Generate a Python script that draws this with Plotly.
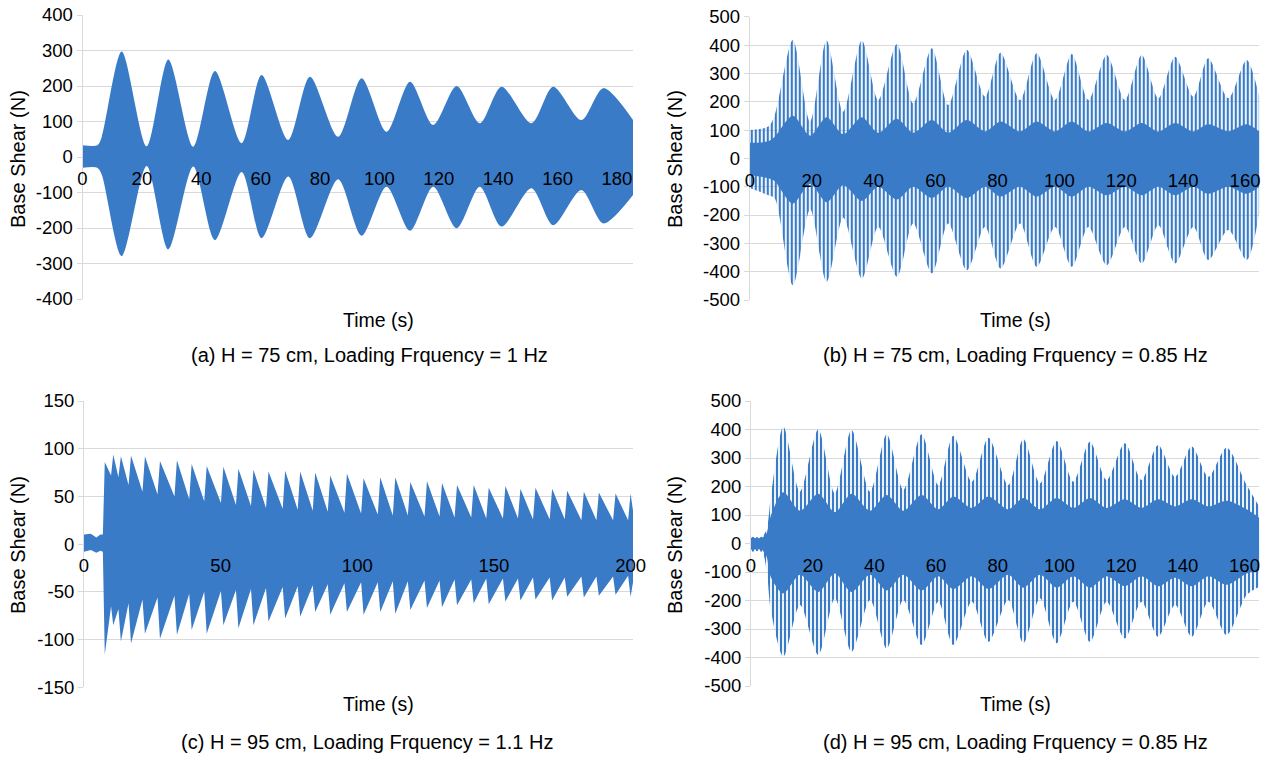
import plotly.graph_objects as go

BLUE = "#3a7bc8"
GRID = "#d9d9d9"
FONT = "Liberation Sans, Arial, sans-serif"

# ---------------- (a) H = 75 cm, 1 Hz : envelope of the base-shear record
t_a = [0, 5, 6.5, 13.2, 21.6, 28.9, 37.3, 44.6, 53.6, 60.3, 69.3, 76.6, 86.1, 94.0,
       102.4, 110.3, 118.1, 126.0, 133.8, 141.1, 151.2, 158.5, 168.0, 175.4, 185.4]
up_a = [33, 33, 57, 297, 30, 275, 29, 242, 39, 231, 48, 226, 57, 222,
        71, 212, 90, 200, 95, 198, 95, 198, 104, 194, 104]
lo_a = [-30, -30, -50, -279, -25, -260, -27, -234, -42, -229, -55, -229, -63, -222,
        -84, -208, -84, -201, -84, -196, -88, -192, -93, -187, -107]

# ---------------- (b) H = 75 cm, 0.85 Hz : spike-tip envelope and dense core
t_b = [0, 6, 8, 13.9, 19.5, 24.8, 30.2, 36.2, 41.5, 47.5, 52.8, 58.8, 64.1, 70.1, 76.0,
       81.0, 87.3, 92.7, 98.6, 104.0, 109.4, 115.3, 121.2, 126.6, 132.0, 137.4, 143.3,
       148.1, 154.6, 160.5, 164.6]
up_b = [100, 112, 150, 418, 130, 416, 165, 416, 206, 404, 194, 389, 188, 383, 218,
        373, 206, 371, 206, 368, 206, 365, 206, 365, 212, 359, 218, 353, 212, 347, 218]
lo_b = [-105, -130, -140, -448, -180, -436, -210, -424, -242, -418, -230, -406, -230, -395, -242,
        -389, -230, -383, -242, -383, -242, -377, -242, -371, -236, -371, -242, -359, -253, -359, -194]
core_hi_b = [55, 60, 75, 150, 80, 145, 85, 145, 90, 140, 90, 135, 90, 135, 95,
             130, 95, 130, 95, 130, 95, 125, 95, 125, 95, 125, 95, 120, 95, 120, 95]
core_lo_b = [-60, -70, -80, -160, -90, -155, -95, -150, -100, -145, -100, -140, -100, -140, -100,
             -135, -100, -135, -100, -135, -100, -130, -100, -130, -100, -130, -100, -125, -100, -125, -100]

# ---------------- (c) H = 95 cm, 1.1 Hz : beat peaks and the troughs between them
c_pre_t = [0, 2.5, 4.5, 6.0, 6.9]
c_pre_up = [10, 11, 7, 10, 10]
c_pre_lo = [-8, -6, -9, -7, -8]
c_peak_t = [7.6, 10.7, 13.5, 17.2, 22.3, 27.8, 34.0, 39.4, 44.9, 51.0, 56.5, 62.0,
            67.5, 73.6, 79.1, 84.6, 90.1, 96.2, 102.3, 108.4, 113.9, 119.4, 125.5, 131.0,
            136.5, 142.6, 148.1, 154.2, 159.7, 165.2, 171.3, 176.8, 182.9, 188.4, 194.5, 200.0]
c_peak_up = [86, 94, 92, 93, 92, 87, 88, 84, 82, 81, 79, 78,
             76, 77, 76, 75, 72, 74, 69, 70, 70, 65, 66, 64,
             62, 62, 59, 61, 58, 59, 58, 56, 55, 54, 53, 53]
c_peak_lo = [-116, -85, -102, -104, -94, -99, -95, -90, -94, -85, -88, -85,
             -81, -78, -76, -71, -74, -71, -74, -71, -73, -69, -67, -66,
             -64, -62, -63, -60, -59, -58, -59, -55, -56, -54, -53, -55]
c_trough_t = [9.9, 12.6, 16.3, 21.4, 26.9, 33.1, 38.5, 44.0, 50.1, 55.6, 61.1, 66.6,
              72.7, 78.2, 83.7, 89.2, 95.3, 101.4, 107.5, 113.0, 118.5, 124.6, 130.1, 135.6,
              141.7, 147.2, 153.3, 158.8, 164.3, 170.4, 175.9, 182.0, 187.5, 193.6, 199.1, 200.9]
c_trough_up = [72, 70, 62, 55, 52, 50, 47, 45, 43, 41, 40, 38,
               37, 36, 35, 34, 33, 32, 31, 30, 30, 29, 29, 28,
               28, 27, 27, 27, 26, 26, 26, 25, 25, 25, 25, 35]
c_trough_lo = [-65, -68, -62, -58, -56, -54, -52, -50, -49, -48, -47, -46,
               -45, -44, -43, -42, -41, -40, -40, -39, -39, -38, -38, -37,
               -37, -36, -36, -36, -35, -35, -35, -34, -34, -34, -33, -40]

# ---------------- (d) H = 95 cm, 0.85 Hz : spike-tip envelope and dense core
t_d = [0, 3.5, 5.0, 6.5, 10.5, 15.9, 21.8, 27.2, 32.6, 38.6, 44.0, 49.4, 55.3, 60.7,
       65.6, 71.6, 77.0, 83.4, 88.3, 93.7, 99.1, 104.5, 109.9, 115.3, 121.2, 126.6,
       132.0, 137.5, 142.9, 148.3, 154.2, 160.7, 164.8]
up_d = [24, 24, 47, 170, 410, 182, 400, 176, 398, 182, 383, 188, 383, 205,
        378, 217, 371, 205, 367, 211, 360, 217, 357, 223, 352, 223,
        346, 234, 340, 234, 336, 205, 129]
lo_d = [-29, -29, -87, -239, -397, -216, -391, -192, -380, -198, -368, -198, -356, -204,
        -356, -204, -345, -198, -350, -192, -350, -204, -345, -204, -333, -204,
        -327, -216, -327, -204, -321, -181, -152]
core_hi_d = [20, 20, 35, 100, 180, 115, 175, 110, 175, 115, 170, 115, 170, 120,
             165, 125, 165, 120, 160, 120, 160, 125, 160, 125, 155, 125,
             155, 130, 155, 130, 150, 120, 90]
core_lo_d = [-22, -22, -45, -120, -175, -110, -170, -105, -170, -110, -165, -110, -165, -115,
             -160, -115, -160, -110, -155, -110, -155, -115, -155, -115, -150, -115,
             -150, -120, -150, -115, -145, -105, -95]

# axis ticks
ticks_a = list(range(0, 181, 20))
ticks_bd = list(range(0, 161, 20))
ticks_c = [0, 50, 100, 150, 200]

W, H = 1271, 759


def px_x(v):
    return v / W


def px_y(v):
    return 1 - v / H


def merged(*pairs):
    ts, vs = [], []
    for t, v in pairs:
        ts += t
        vs += v
    pts = sorted(zip(ts, vs))
    return [p[0] for p in pts], [p[1] for p in pts]


fig = go.Figure()


def axes_of(n):
    return ("x", "y") if n == 1 else (f"x{n}", f"y{n}")


def band(x_hi, hi, x_lo, lo, n, shape, smoothing=1.0, pattern=None, color=BLUE):
    xa, ya = axes_of(n)
    line = dict(width=0, shape=shape)
    if shape == "spline":
        line["smoothing"] = smoothing
    fig.add_trace(go.Scatter(x=x_hi, y=hi, xaxis=xa, yaxis=ya, mode="lines",
                             line=line, hoverinfo="skip", showlegend=False))
    kw = dict(fill="tonexty", fillcolor=color)
    if pattern is not None:
        kw["fillpattern"] = pattern
    fig.add_trace(go.Scatter(x=x_lo, y=lo, xaxis=xa, yaxis=ya, mode="lines",
                             line=line, hoverinfo="skip", showlegend=False, **kw))


spikes = dict(shape="|", size=4, solidity=0.55, fgcolor=BLUE, fgopacity=1,
              bgcolor="rgba(0,0,0,0)")

# (a)
band(t_a, up_a, t_a, lo_a, 1, "spline", 0.8)
# (b)
band(t_b, up_b, t_b, lo_b, 2, "spline", 0.8, pattern=spikes)
band(t_b, core_hi_b, t_b, core_lo_b, 2, "spline", 0.8)
# (c)
tu, vu = merged((c_pre_t, c_pre_up), (c_peak_t, c_peak_up), (c_trough_t, c_trough_up))
tl, vl = merged((c_pre_t, c_pre_lo), (c_peak_t, c_peak_lo), (c_trough_t, c_trough_lo))
band(tu, vu, tl, vl, 3, "linear")
# (d)
band(t_d, up_d, t_d, lo_d, 4, "spline", 0.8, pattern=spikes)
band(t_d, core_hi_d, t_d, core_lo_d, 4, "spline", 0.8)

# panel geometry in pixels: x0/x1 plot edges, yt/yb top and bottom, ranges, ticks
panels = [
    dict(x0=82.5, x1=633, yt=15, yb=299, xmax=185.4, ymax=400, dy=100, ticks=ticks_a),
    dict(x0=749.8, x1=1259.3, yt=16.7, yb=300, xmax=164.6, ymax=500, dy=100, ticks=ticks_bd),
    dict(x0=84, x1=633.3, yt=401, yb=687.3, xmax=201, ymax=150, dy=50, ticks=ticks_c),
    dict(x0=751, x1=1259.3, yt=401, yb=686, xmax=164.8, ymax=500, dy=100, ticks=ticks_bd),
]

tickfont = dict(family=FONT, size=18.5, color="#000000")
for i, p in enumerate(panels, start=1):
    sx = "" if i == 1 else str(i)
    ydom = [px_y(p["yb"]), px_y(p["yt"])]
    yvals = list(range(-p["ymax"], p["ymax"] + 1, p["dy"]))
    fig.layout[f"xaxis{sx}"] = dict(
        domain=[px_x(p["x0"]), px_x(p["x1"])], range=[0, p["xmax"]],
        anchor="free", position=(ydom[0] + ydom[1]) / 2,
        tickvals=p["ticks"], ticks="outside", ticklen=5, tickcolor="rgba(0,0,0,0)",
        showgrid=False, zeroline=False, showline=False, tickfont=tickfont,
        fixedrange=True, automargin=False,
    )
    fig.layout[f"yaxis{sx}"] = dict(
        domain=ydom, range=[-p["ymax"], p["ymax"]], anchor=f"x{sx}",
        tickvals=yvals, ticktext=[str(v) for v in yvals],
        showline=True, linecolor=GRID, linewidth=1, ticks="outside", ticklen=5,
        tickcolor=GRID, gridcolor=GRID, gridwidth=1, zeroline=False,
        tickfont=tickfont, fixedrange=True, automargin=False,
    )

cap_font = dict(family=FONT, size=20, color="#000000")
title_font = dict(family=FONT, size=19.5, color="#000000")
captions = [
    ("(a) H = 75 cm, Loading Frquency = 1 Hz", 369, 355),
    ("(b) H = 75 cm, Loading Frquency = 0.85 Hz", 1015, 355),
    ("(c) H = 95 cm, Loading Frquency = 1.1 Hz", 367, 742),
    ("(d) H = 95 cm, Loading Frquency = 0.85 Hz", 1015, 742),
]
annotations = []
for text, cx, cy in captions:
    annotations.append(dict(text=text, x=px_x(cx), y=px_y(cy), xref="paper", yref="paper",
                            xanchor="center", yanchor="middle", showarrow=False, font=cap_font))
for cx, cy in [(378, 320), (1016, 320), (378, 704), (1016, 704)]:
    annotations.append(dict(text="Time (s)", x=px_x(cx), y=px_y(cy), xref="paper", yref="paper",
                            xanchor="center", yanchor="middle", showarrow=False,
                            font=title_font))
for cx, cy in [(18, 159), (675, 159), (18, 545), (675, 545)]:
    annotations.append(dict(text="Base Shear (N)", x=px_x(cx), y=px_y(cy), xref="paper",
                            yref="paper", xanchor="center", yanchor="middle", textangle=-90,
                            showarrow=False, font=dict(family=FONT, size=20, color="#000000")))

fig.update_layout(
    width=W, height=H, autosize=False,
    margin=dict(l=0, r=0, t=0, b=0, pad=0, autoexpand=False),
    paper_bgcolor="white", plot_bgcolor="white",
    font=dict(family=FONT, color="#000000"),
    annotations=annotations,
    showlegend=False,
)

fig.write_html("out.html", config={"displayModeBar": False})
